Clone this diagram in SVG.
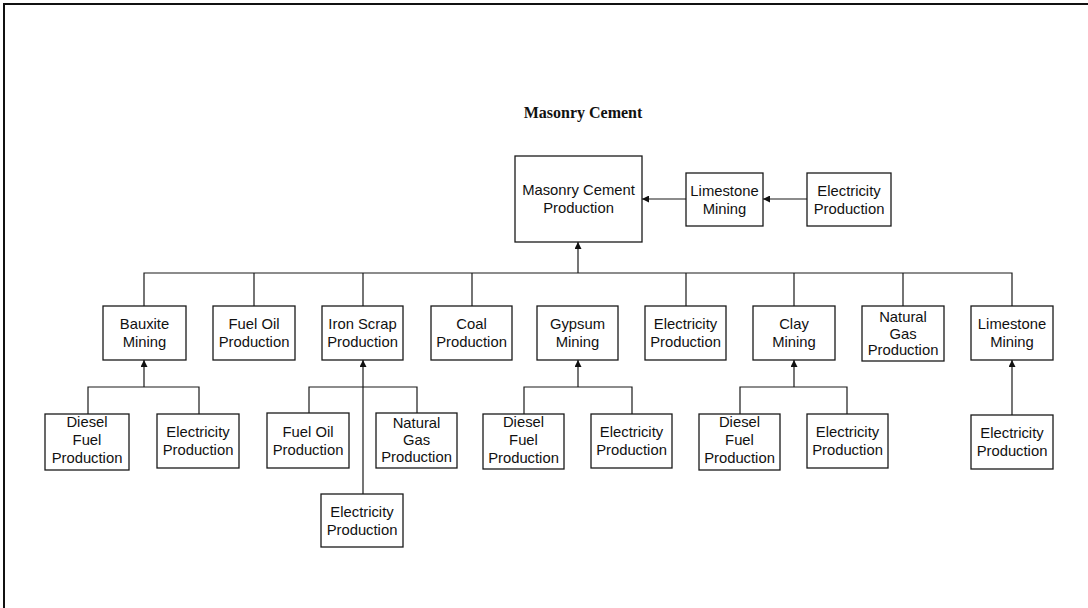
<svg xmlns="http://www.w3.org/2000/svg" width="1088" height="608" viewBox="0 0 1088 608">
  <style>
    .box { fill: #fff; stroke: #1a1a1a; stroke-width: 1.3; }
    .lbl { font-family: "Liberation Sans", Arial, sans-serif; font-size: 14.8px; fill: #111; text-anchor: middle; }
    .ttl { font-family: "Liberation Serif", "Times New Roman", serif; font-size: 16px; font-weight: bold; fill: #111; text-anchor: middle; }
    .wire { fill: none; stroke: #1a1a1a; stroke-width: 1.2; }
    .frame { fill: none; stroke: #111; stroke-width: 2; }
  </style>
  <defs>
    <marker id="arrow" viewBox="0 0 10 10" refX="10" refY="5" markerWidth="8" markerHeight="7" markerUnits="userSpaceOnUse" orient="auto">
      <path d="M0,0 L10,5 L0,10 Z" fill="#111"/>
    </marker>
  </defs>
  <rect width="1088" height="608" fill="#fff"/>

  <!-- page frame (top and left edges) -->
  <path class="frame" d="M4,608 V4 H1088"/>

  <text class="ttl" x="583" y="118">Masonry Cement</text>

  <!-- connectors -->
  <g id="connectors">
    <!-- top row -->
    <line class="wire" x1="686" y1="199" x2="642" y2="199" marker-end="url(#arrow)"/>
    <line class="wire" x1="807" y1="199" x2="763" y2="199" marker-end="url(#arrow)"/>
    <!-- main bus to Masonry Cement Production -->
    <line class="wire" x1="578" y1="273" x2="578" y2="242" marker-end="url(#arrow)"/>
    <path class="wire" d="M144,306 V273 H1012 V306 M254,273 V306 M363,273 V306 M472,273 V306 M686,273 V306 M794,273 V306 M903,273 V306"/>
    <!-- Bauxite inputs -->
    <path class="wire" d="M88,414 V387 H199 V414"/>
    <line class="wire" x1="144" y1="387" x2="144" y2="360" marker-end="url(#arrow)"/>
    <!-- Iron Scrap inputs -->
    <path class="wire" d="M309,413 V387 H417 V413"/>
    <line class="wire" x1="363" y1="494" x2="363" y2="360" marker-end="url(#arrow)"/>
    <!-- Gypsum inputs -->
    <path class="wire" d="M524,414 V387 H632 V414"/>
    <line class="wire" x1="578" y1="387" x2="578" y2="360" marker-end="url(#arrow)"/>
    <!-- Clay inputs -->
    <path class="wire" d="M740,414 V387 H847 V414"/>
    <line class="wire" x1="794" y1="387" x2="794" y2="360" marker-end="url(#arrow)"/>
    <!-- Limestone input -->
    <line class="wire" x1="1012" y1="415" x2="1012" y2="360" marker-end="url(#arrow)"/>
  </g>

  <!-- top row nodes -->
  <g id="masonry-cement-production">
    <rect class="box" x="515" y="156" width="127" height="86"/>
    <text class="lbl" x="578.5" y="195">Masonry Cement</text>
    <text class="lbl" x="578.5" y="213">Production</text>
  </g>
  <g id="limestone-mining-top">
    <rect class="box" x="686" y="173" width="77" height="53"/>
    <text class="lbl" x="724.5" y="195.5">Limestone</text>
    <text class="lbl" x="724.5" y="213.5">Mining</text>
  </g>
  <g id="electricity-top">
    <rect class="box" x="807" y="173" width="84" height="53"/>
    <text class="lbl" x="849" y="195.5">Electricity</text>
    <text class="lbl" x="849" y="213.5">Production</text>
  </g>

  <!-- second row -->
  <g id="bauxite-mining">
    <rect class="box" x="103" y="306" width="83" height="54"/>
    <text class="lbl" x="144.5" y="328.5">Bauxite</text>
    <text class="lbl" x="144.5" y="346.5">Mining</text>
  </g>
  <g id="fuel-oil">
    <rect class="box" x="213" y="306" width="82" height="54"/>
    <text class="lbl" x="254" y="328.5">Fuel Oil</text>
    <text class="lbl" x="254" y="346.5">Production</text>
  </g>
  <g id="iron-scrap">
    <rect class="box" x="322" y="306" width="81" height="54"/>
    <text class="lbl" x="362.5" y="328.5">Iron Scrap</text>
    <text class="lbl" x="362.5" y="346.5">Production</text>
  </g>
  <g id="coal">
    <rect class="box" x="431" y="306" width="81" height="54"/>
    <text class="lbl" x="471.5" y="328.5">Coal</text>
    <text class="lbl" x="471.5" y="346.5">Production</text>
  </g>
  <g id="gypsum-mining">
    <rect class="box" x="537" y="306" width="81" height="54"/>
    <text class="lbl" x="577.5" y="328.5">Gypsum</text>
    <text class="lbl" x="577.5" y="346.5">Mining</text>
  </g>
  <g id="electricity-mid">
    <rect class="box" x="645" y="306" width="81" height="54"/>
    <text class="lbl" x="685.5" y="328.5">Electricity</text>
    <text class="lbl" x="685.5" y="346.5">Production</text>
  </g>
  <g id="clay-mining">
    <rect class="box" x="753" y="306" width="82" height="54"/>
    <text class="lbl" x="794" y="328.5">Clay</text>
    <text class="lbl" x="794" y="346.5">Mining</text>
  </g>
  <g id="natural-gas">
    <rect class="box" x="862" y="306" width="82" height="55"/>
    <text class="lbl" x="903" y="322">Natural</text>
    <text class="lbl" x="903" y="338.5">Gas</text>
    <text class="lbl" x="903" y="355">Production</text>
  </g>
  <g id="limestone-mining">
    <rect class="box" x="971" y="306" width="82" height="54"/>
    <text class="lbl" x="1012" y="328.5">Limestone</text>
    <text class="lbl" x="1012" y="346.5">Mining</text>
  </g>

  <!-- third row -->
  <g id="bauxite-diesel">
    <rect class="box" x="45" y="414" width="84" height="56"/>
    <text class="lbl" x="87" y="427">Diesel</text>
    <text class="lbl" x="87" y="445">Fuel</text>
    <text class="lbl" x="87" y="463">Production</text>
  </g>
  <g id="bauxite-electricity">
    <rect class="box" x="157" y="414" width="82" height="54"/>
    <text class="lbl" x="198" y="437">Electricity</text>
    <text class="lbl" x="198" y="455">Production</text>
  </g>
  <g id="iron-fuel-oil">
    <rect class="box" x="267" y="413" width="82" height="55"/>
    <text class="lbl" x="308" y="436.5">Fuel Oil</text>
    <text class="lbl" x="308" y="454.5">Production</text>
  </g>
  <g id="iron-natural-gas">
    <rect class="box" x="376" y="413" width="81" height="55"/>
    <text class="lbl" x="416.5" y="428">Natural</text>
    <text class="lbl" x="416.5" y="445">Gas</text>
    <text class="lbl" x="416.5" y="462">Production</text>
  </g>
  <g id="iron-electricity">
    <rect class="box" x="321" y="494" width="82" height="53"/>
    <text class="lbl" x="362" y="517">Electricity</text>
    <text class="lbl" x="362" y="535">Production</text>
  </g>
  <g id="gypsum-diesel">
    <rect class="box" x="483" y="414" width="81" height="55"/>
    <text class="lbl" x="523.5" y="427">Diesel</text>
    <text class="lbl" x="523.5" y="445">Fuel</text>
    <text class="lbl" x="523.5" y="463">Production</text>
  </g>
  <g id="gypsum-electricity">
    <rect class="box" x="591" y="414" width="81" height="54"/>
    <text class="lbl" x="631.5" y="437">Electricity</text>
    <text class="lbl" x="631.5" y="455">Production</text>
  </g>
  <g id="clay-diesel">
    <rect class="box" x="699" y="414" width="81" height="56"/>
    <text class="lbl" x="739.5" y="427">Diesel</text>
    <text class="lbl" x="739.5" y="445">Fuel</text>
    <text class="lbl" x="739.5" y="463">Production</text>
  </g>
  <g id="clay-electricity">
    <rect class="box" x="807" y="414" width="81" height="54"/>
    <text class="lbl" x="847.5" y="437">Electricity</text>
    <text class="lbl" x="847.5" y="455">Production</text>
  </g>
  <g id="limestone-electricity">
    <rect class="box" x="971" y="415" width="82" height="54"/>
    <text class="lbl" x="1012" y="438">Electricity</text>
    <text class="lbl" x="1012" y="456">Production</text>
  </g>
</svg>
